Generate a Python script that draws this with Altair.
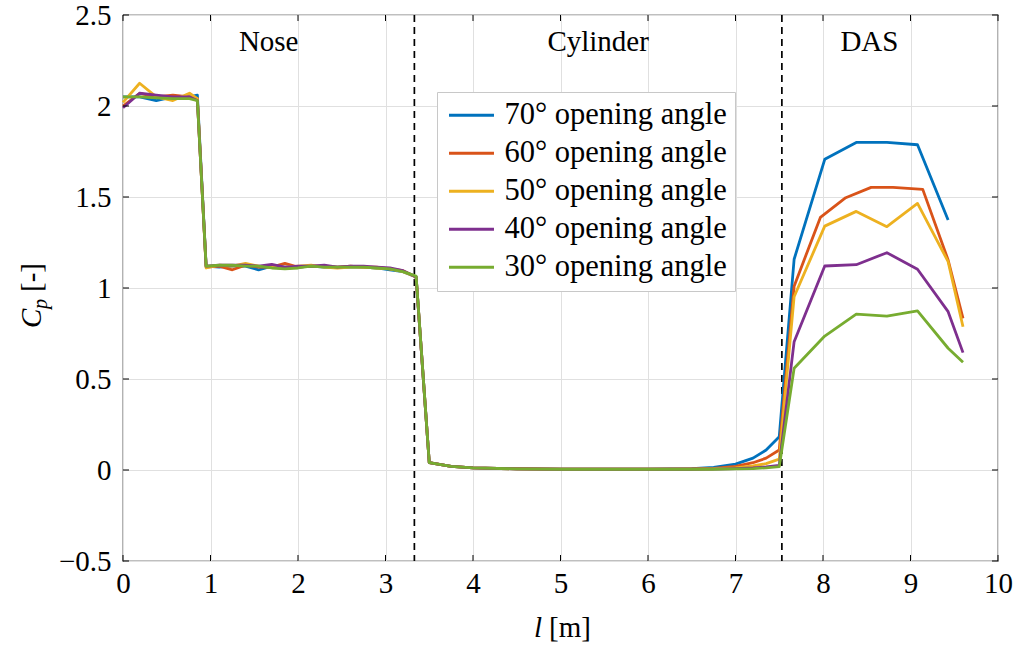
import altair as alt
import pandas as pd

# ---- data -------------------------------------------------------------
SERIES = ["70° opening angle", "60° opening angle", "50° opening angle",
          "40° opening angle", "30° opening angle"]
COLORS = ["#0072BD", "#D95319", "#EDB120", "#7E2F8E", "#77AC30"]

# stations on nose, shoulder and cylinder (shared by every run)
L_FRONT = [0, 0.19, 0.38, 0.57, 0.76, 0.85,
           0.95, 1.1, 1.25, 1.4, 1.55, 1.7, 1.85, 2.0, 2.15, 2.3, 2.45,
           2.6, 2.75, 2.9, 3.05, 3.2, 3.35,
           3.5, 3.75, 4.0, 4.5, 5.0, 5.5, 6.0, 6.5, 6.75, 7.0, 7.2, 7.35, 7.5]

CP70_FRONT = [2.05, 2.05, 2.03, 2.05, 2.05, 2.06,
              1.12, 1.115, 1.12, 1.12, 1.10, 1.12, 1.115, 1.115, 1.12, 1.115, 1.115,
              1.115, 1.115, 1.11, 1.10, 1.09, 1.06,
              0.04, 0.02, 0.012, 0.007, 0.005, 0.005, 0.005, 0.007, 0.014, 0.032, 0.065, 0.11, 0.183]
CP60_FRONT = [2.00, 2.07, 2.05, 2.06, 2.05, 2.04,
              1.115, 1.12, 1.10, 1.125, 1.115, 1.115, 1.135, 1.115, 1.12, 1.12, 1.115,
              1.12, 1.115, 1.115, 1.105, 1.095, 1.06,
              0.04, 0.02, 0.012, 0.007, 0.005, 0.005, 0.005, 0.006, 0.009, 0.02, 0.04, 0.065, 0.11]
CP50_FRONT = [2.02, 2.125, 2.05, 2.03, 2.07, 2.04,
              1.11, 1.125, 1.12, 1.135, 1.12, 1.115, 1.115, 1.12, 1.125, 1.115, 1.11,
              1.115, 1.115, 1.11, 1.105, 1.09, 1.06,
              0.04, 0.02, 0.012, 0.006, 0.004, 0.004, 0.004, 0.005, 0.007, 0.012, 0.022, 0.035, 0.06]
CP40_FRONT = [1.99, 2.07, 2.06, 2.05, 2.05, 2.03,
              1.12, 1.125, 1.125, 1.125, 1.12, 1.13, 1.115, 1.12, 1.12, 1.125, 1.115,
              1.12, 1.12, 1.115, 1.11, 1.095, 1.06,
              0.04, 0.02, 0.012, 0.006, 0.004, 0.004, 0.004, 0.004, 0.005, 0.008, 0.012, 0.017, 0.025]
CP30_FRONT = [2.05, 2.05, 2.045, 2.04, 2.04, 2.03,
              1.12, 1.125, 1.125, 1.12, 1.12, 1.11, 1.105, 1.11, 1.12, 1.115, 1.115,
              1.115, 1.115, 1.11, 1.105, 1.09, 1.065,
              0.04, 0.02, 0.012, 0.006, 0.004, 0.004, 0.004, 0.004, 0.004, 0.006, 0.008, 0.012, 0.018]

# stations on the DAS
L70_DAS = [7.67, 8.02, 8.38, 8.73, 9.08, 9.43]
CP70_DAS = [1.158, 1.707, 1.80, 1.80, 1.787, 1.374]
L60_DAS = [7.67, 7.97, 8.26, 8.55, 8.8, 9.14, 9.43, 9.6]
CP60_DAS = [1.01, 1.388, 1.496, 1.553, 1.553, 1.542, 1.154, 0.833]
L50_DAS = [7.67, 8.02, 8.38, 8.73, 9.08, 9.43, 9.6]
CP50_DAS = [0.952, 1.34, 1.421, 1.337, 1.465, 1.145, 0.787]
L40_DAS = [7.67, 8.02, 8.38, 8.73, 9.08, 9.43, 9.6]
CP40_DAS = [0.705, 1.121, 1.128, 1.194, 1.103, 0.870, 0.645]
L30_DAS = [7.67, 8.02, 8.38, 8.73, 9.08, 9.43, 9.6]
CP30_DAS = [0.559, 0.736, 0.857, 0.846, 0.874, 0.669, 0.592]

# section boundaries: nose | cylinder | DAS
SECTION_EDGES = [0, 3.33, 7.53, 9.53]
SECTION_NAMES = ["Nose", "Cylinder", "DAS"]

X_TICKS = list(range(0, 11))
Y_TICKS = [-0.5, 0, 0.5, 1, 1.5, 2, 2.5]

FONT = "Liberation Serif"
FS = 29
FS_LEGEND = 30.5
W, H = 875, 546

# ---- tables -----------------------------------------------------------
fronts = [CP70_FRONT, CP60_FRONT, CP50_FRONT, CP40_FRONT, CP30_FRONT]
das_l = [L70_DAS, L60_DAS, L50_DAS, L40_DAS, L30_DAS]
das_cp = [CP70_DAS, CP60_DAS, CP50_DAS, CP40_DAS, CP30_DAS]

rows = []
for name, cf, dl, dc in zip(SERIES, fronts, das_l, das_cp):
    ls = L_FRONT + dl
    cs = cf + dc
    for i, (l, c) in enumerate(zip(ls, cs)):
        rows.append({"series": name, "l": l, "cp": c, "idx": i})
df = pd.DataFrame(rows)

bounds = pd.DataFrame({"b": SECTION_EDGES[1:3]})
labels = pd.DataFrame({
    "name": SECTION_NAMES,
    "mid": [(a + b) / 2 for a, b in zip(SECTION_EDGES[:-1], SECTION_EDGES[1:])],
})
xt = pd.DataFrame({"v": X_TICKS})
yt = pd.DataFrame({"v": Y_TICKS})

# ---- scales / axes ----------------------------------------------------
xs = alt.Scale(domain=[0, 10], nice=False, zero=False)
ys = alt.Scale(domain=[-0.5, 2.5], nice=False, zero=False)
x_axis = alt.Axis(values=X_TICKS, format="d", title=None, grid=True, ticks=False,
                  domain=False, labelPadding=8, labelFlush=False)
y_axis = alt.Axis(values=Y_TICKS, format="~g", title=None, grid=True, ticks=False,
                  domain=False, labelPadding=12, labelFlush=False)

color = alt.Color("series:N", scale=alt.Scale(domain=SERIES, range=COLORS),
                  legend=alt.Legend(title=None, orient="none", legendX=314, legendY=77,
                                    symbolType="M-1,0H3", symbolSize=506,
                                    symbolStrokeWidth=2.8, labelOffset=29,
                                    labelLimit=0, padding=8, rowPadding=7,
                                    strokeColor="#c8c8c8", fillColor="white",
                                    symbolOpacity=1))

# invisible carrier so the axes and grid are drawn once
axes = alt.Chart(yt).mark_point(opacity=0).encode(
    x=alt.X("v:Q", scale=xs, axis=x_axis),
    y=alt.Y("v:Q", scale=ys, axis=y_axis),
)

dashes = alt.Chart(bounds).mark_rule(color="black", strokeWidth=1.7,
                                     strokeDash=[7, 5]).encode(
    x=alt.X("b:Q", scale=xs, axis=x_axis))

section_text = alt.Chart(labels).mark_text(font=FONT, fontSize=FS, color="black",
                                           baseline="middle").encode(
    x=alt.X("mid:Q", scale=xs, axis=x_axis), y=alt.value(27), text="name:N")

line_layers = []
for s in SERIES:
    line_layers.append(
        alt.Chart(df).transform_filter(alt.datum.series == s)
        .mark_line(strokeWidth=2.8, strokeJoin="round")
        .encode(x=alt.X("l:Q", scale=xs, axis=x_axis),
                y=alt.Y("cp:Q", scale=ys, axis=y_axis),
                color=color, order="idx:Q")
    )

# inward tick marks on all four sides
tick_b = alt.Chart(xt).mark_rule(color="black", strokeWidth=1).encode(
    x=alt.X("v:Q", scale=xs, axis=x_axis), y=alt.value(H), y2=alt.value(H - 6))
tick_t = alt.Chart(xt).mark_rule(color="black", strokeWidth=1).encode(
    x=alt.X("v:Q", scale=xs, axis=x_axis), y=alt.value(0), y2=alt.value(6))
tick_l = alt.Chart(yt).mark_rule(color="black", strokeWidth=1).encode(
    y=alt.Y("v:Q", scale=ys, axis=y_axis), x=alt.value(0), x2=alt.value(6))
tick_r = alt.Chart(yt).mark_rule(color="black", strokeWidth=1).encode(
    y=alt.Y("v:Q", scale=ys, axis=y_axis), x=alt.value(W), x2=alt.value(W - 6))

# axis titles: l [m] and C_p [-]
def txt(s, **kw):
    return alt.Chart(pd.DataFrame({"t": [s]})).mark_text(font=FONT, color="black", **kw)

xl_l = txt("l", fontSize=FS, fontStyle="italic", align="right",
           baseline="alphabetic").encode(x=alt.value(419), y=alt.value(622), text="t:N")
xl_m = txt("[m]", fontSize=FS, align="left",
           baseline="alphabetic").encode(x=alt.value(426), y=alt.value(622), text="t:N")
yl_c = txt("C", fontSize=FS, fontStyle="italic", align="left", angle=270,
           baseline="alphabetic").encode(x=alt.value(-82), y=alt.value(313), text="t:N")
yl_p = txt("p", fontSize=20, fontStyle="italic", align="left", angle=270,
           baseline="alphabetic").encode(x=alt.value(-76), y=alt.value(294), text="t:N")
yl_u = txt("[-]", fontSize=FS, align="left", angle=270,
           baseline="alphabetic").encode(x=alt.value(-82), y=alt.value(277), text="t:N")

chart = alt.layer(
    axes, dashes, section_text, *line_layers,
    tick_b, tick_t, tick_l, tick_r, xl_l, xl_m, yl_c, yl_p, yl_u,
).properties(
    width=W, height=H,
    padding={"left": 123, "top": 15, "right": 31, "bottom": 90},
    autosize=alt.AutoSizeParams(type="none"),
    background="white",
).configure(
    font=FONT,
).configure_view(
    stroke="black", strokeWidth=1.2,
).configure_axis(
    labelFont=FONT, labelFontSize=FS, labelColor="black",
    gridColor="#e0e0e0", gridWidth=1,
).configure_legend(
    labelFont=FONT, labelFontSize=FS_LEGEND, labelColor="black",
).configure_text(
    font=FONT,
)

chart.save("out.html", embed_options={"renderer": "svg", "actions": False})
